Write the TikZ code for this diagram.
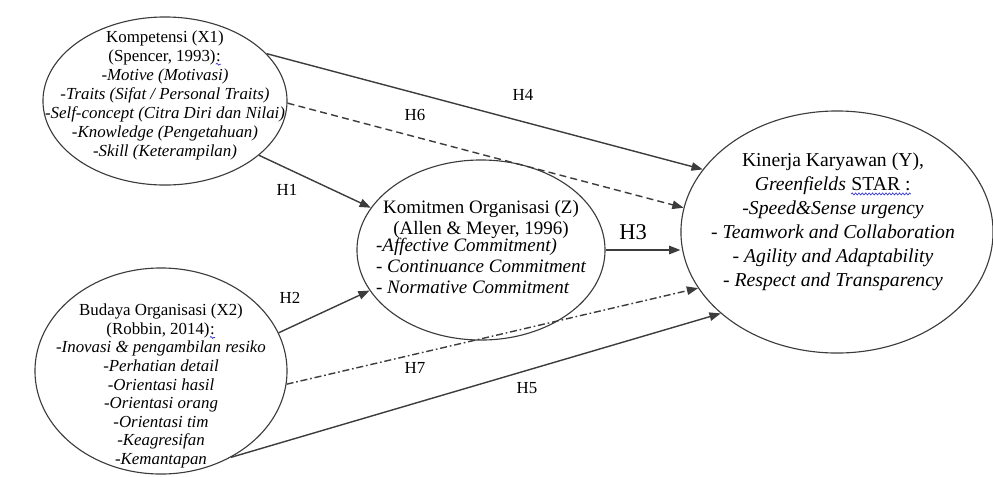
\documentclass[tikz,border=0pt]{standalone}
\usepackage{fontspec}
\setmainfont{Liberation Serif}
\usepackage{tikz}
\usetikzlibrary{arrows.meta,positioning,shapes.geometric,decorations.pathmorphing}
\definecolor{lineGray}{HTML}{3C3C3C}
\definecolor{spellBlue}{HTML}{3A3AD8}
\newcommand{\spellmark}[1]{\tikz[baseline=(s.base)]{\node[inner sep=0pt] (s) {#1};
    \draw[spellBlue, line width=0.5pt, decorate, decoration={snake, amplitude=0.7pt, segment length=2.4pt}]
        ([yshift=-2.2pt]s.base west) -- ([yshift=-2.2pt]s.base east);}}

\begin{document}
\begin{tikzpicture}[x=0.025cm, y=-0.025cm, >={Triangle[length=8pt,width=6pt]},
    latent/.style={ellipse, draw=lineGray, line width=0.8pt, inner sep=0pt},
    path/.style={->, draw=lineGray, line width=1pt},
    hyp/.style={font=\fontsize{12}{14}\selectfont}]
    \useasboundingbox (0,0) rectangle (993,476);
    % latent variables
    \node[latent, minimum width=6.1cm, minimum height=4.2cm] (x1) at (165,101) {};
    \node[latent, minimum width=6.3cm, minimum height=5.15cm] (x2) at (161,371) {};
    \node[latent, minimum width=6.2cm, minimum height=4.5cm] (z) at (481,250) {};
    \node[latent, minimum width=7.8cm, minimum height=6.05cm] (y) at (837,232) {};
    \node[align=center, font=\fontsize{12}{13.5}\selectfont] (x1text) at (165,95)
        {Kompetensi (X1)\\(Spencer, 1993)\spellmark{ :}\\\textit{-Motive (Motivasi)}\\\textit{-Traits (Sifat / Personal Traits)}\\
        \textit{-Self-concept (Citra Diri dan Nilai)}\\\textit{-Knowledge (Pengetahuan)}\\\textit{-Skill (Keterampilan)}};
    \node[align=center, font=\fontsize{12}{13.2}\selectfont] (x2text) at (161,386)
        {Budaya Organisasi (X2)\\(Robbin, 2014)\spellmark{ :}\\\textit{-Inovasi \& pengambilan resiko}\\\textit{-Perhatian detail}\\
        \textit{-Orientasi hasil}\\\textit{-Orientasi orang}\\\textit{-Orientasi tim}\\\textit{-Keagresifan}\\\textit{-Kemantapan}};
    \node[align=center, font=\fontsize{13.5}{15}\selectfont] (ztext) at (481,250)
        {Komitmen Organisasi (Z)\\(Allen \& Meyer, 1996)\\[-2pt]
        \begin{tabular}{@{}l@{}}\itshape -Affective Commitment)\\\itshape - Continuance Commitment\\\itshape - Normative Commitment\end{tabular}};
    \node[align=center, font=\fontsize{14}{17}\selectfont] (ytext) at (833,222)
        {Kinerja Karyawan (Y),\\\textit{Greenfields} \spellmark{STAR :}\\\textit{-Speed\&Sense urgency}\\\textit{- Teamwork and Collaboration}\\
        \textit{- Agility and Adaptability}\\\textit{- Respect and Transparency}};
    % hypotheses
    \draw[path] (x1.-30) -- (z.159);
    \draw[path] (x2.18) -- (z.200);
    \draw[path] (z.east) -- (y.west |- z.east);
    \draw[path] (x1.25) -- (y.155);
    \draw[path] (x2.-51) -- (y.215);
    \draw[path, dash pattern=on 5pt off 3pt] (x1.-1) -- (y.171);
    \draw[path, dash pattern=on 5pt off 2pt on 1.2pt off 2pt] (x2.-6) -- (y.202);
    \node[hyp] (h1) at (287,190) {H1};
    \node[hyp] (h2) at (290,298) {H2};
    \node[hyp, font=\fontsize{16}{18}\selectfont] (h3) at (633,232) {H3};
    \node[hyp] (h4) at (523,95) {H4};
    \node[hyp] (h5) at (527,388) {H5};
    \node[hyp] (h6) at (415,115) {H6};
    \node[hyp] (h7) at (415,368) {H7};
\end{tikzpicture}
\end{document}
